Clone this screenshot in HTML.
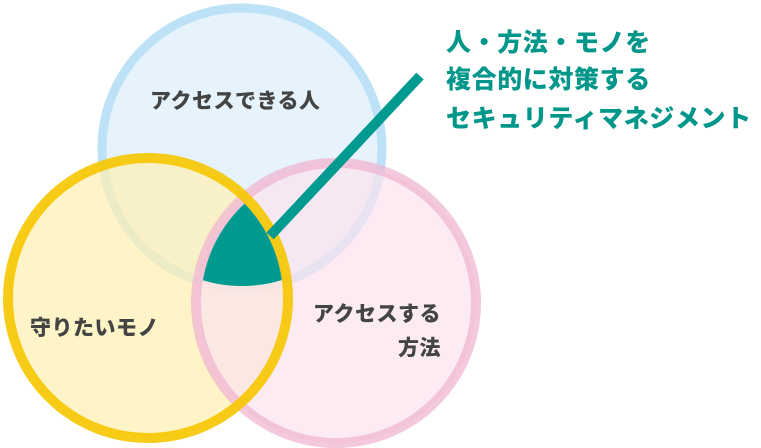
<!DOCTYPE html>
<html><head><meta charset="utf-8"><style>
body{margin:0;background:#fff;}
svg{display:block}
text{font-family:"Liberation Sans","Noto Sans CJK JP",sans-serif;font-weight:900;}
</style></head><body>
<svg width="761" height="448" viewBox="0 0 761 448">
<defs>
<clipPath id="cy"><circle cx="148" cy="298" r="135"/></clipPath>
<clipPath id="cp"><circle cx="336" cy="303" r="135"/></clipPath>
</defs>
<circle cx="242" cy="148" r="140" fill="#e6f3fc" stroke="#bde2f7" stroke-width="9"/>
<circle cx="148" cy="298" r="140" fill="#fff0b0" fill-opacity="0.7" stroke="none"/>
<circle cx="336" cy="303" r="140" fill="#fbe3ee" fill-opacity="0.7" stroke="#f0b6d2" stroke-width="10" stroke-opacity="0.75"/>
<circle cx="148" cy="298" r="140" fill="none" stroke="#f6c600" stroke-width="10" stroke-opacity="0.9"/>
<g clip-path="url(#cy)"><g clip-path="url(#cp)"><circle cx="242" cy="148" r="138" fill="#009a90"/></g></g>
<line x1="270" y1="236" x2="420" y2="76" stroke="#009a90" stroke-width="10"/>
<g fill="#444" font-size="21" letter-spacing="0.5">
<text x="150" y="108">アクセスできる人</text>
<text x="30" y="335">守りたいモノ</text>
<text x="441" y="321" text-anchor="end">アクセスする</text>
<text x="441" y="355" text-anchor="end">方法</text>
</g>
<g fill="#00968a" font-size="25" letter-spacing="0.6">
<text x="446" y="51">人・方法・モノを</text>
<text x="446" y="88">複合的に対策する</text>
<text x="446" y="127">セキュリティマネジメント</text>
</g>
</svg>
</body></html>
